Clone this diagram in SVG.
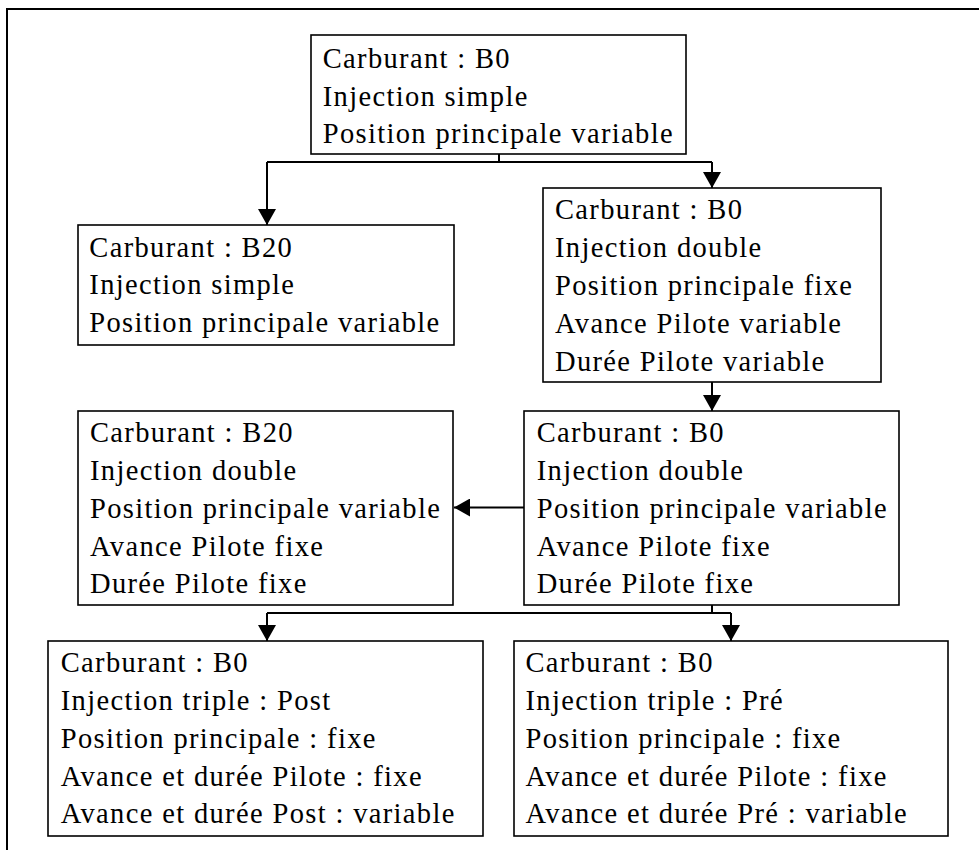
<svg xmlns="http://www.w3.org/2000/svg" width="979" height="850" viewBox="0 0 979 850">
<style>
.box{fill:#fff;stroke:#000;stroke-width:1.6}
.t{font-family:"Liberation Serif","Times New Roman",serif;font-size:28.5px;letter-spacing:1.35px;fill:#000}
.c{fill:none;stroke:#000;stroke-width:2}
</style>
<defs>
<marker id="ah" markerUnits="userSpaceOnUse" markerWidth="16" markerHeight="18" refX="16" refY="9" orient="auto" viewBox="0 0 16 18">
<path d="M0,0 L16,9 L0,18 z" fill="#000"/>
</marker>
</defs>
<rect width="979" height="850" fill="#fff"/>
<path d="M7,850 V9 H979" fill="none" stroke="#000" stroke-width="2"/>
<g id="connectors">
<path class="c" d="M499,154 V162"/>
<path class="c" d="M267,162 H712"/>
<path class="c" d="M267,162 V225" marker-end="url(#ah)"/>
<path class="c" d="M712,162 V188" marker-end="url(#ah)"/>
<path class="c" d="M712,382 V411" marker-end="url(#ah)"/>
<path class="c" d="M524,507.5 H454" marker-end="url(#ah)"/>
<path class="c" d="M712,605 V613"/>
<path class="c" d="M267,613 H731"/>
<path class="c" d="M267,613 V641" marker-end="url(#ah)"/>
<path class="c" d="M731,613 V641" marker-end="url(#ah)"/>
</g>
<g id="n1">
<rect class="box" x="311" y="35" width="375" height="119"/>
<text class="t" x="322.7"><tspan x="322.7" y="67.7">Carburant : B0</tspan><tspan x="322.7" y="105.5">Injection simple</tspan><tspan x="322.7" y="143">Position principale variable</tspan></text>
</g>
<g id="n2">
<rect class="box" x="78" y="225" width="376" height="120"/>
<text class="t"><tspan x="89.3" y="256.7">Carburant : B20</tspan><tspan x="89.3" y="294">Injection simple</tspan><tspan x="89.3" y="331.7">Position principale variable</tspan></text>
</g>
<g id="n3">
<rect class="box" x="543" y="188" width="338" height="194"/>
<text class="t"><tspan x="555" y="219">Carburant : B0</tspan><tspan x="555" y="257">Injection double</tspan><tspan x="555" y="295">Position principale fixe</tspan><tspan x="555" y="333">Avance Pilote variable</tspan><tspan x="555" y="371">Durée Pilote variable</tspan></text>
</g>
<g id="n4">
<rect class="box" x="78" y="411" width="375" height="194"/>
<text class="t"><tspan x="90" y="441.7">Carburant : B20</tspan><tspan x="90" y="480">Injection double</tspan><tspan x="90" y="517.5">Position principale variable</tspan><tspan x="90" y="556">Avance Pilote fixe</tspan><tspan x="90" y="593.3">Durée Pilote fixe</tspan></text>
</g>
<g id="n5">
<rect class="box" x="524" y="411" width="375" height="194"/>
<text class="t"><tspan x="536.7" y="441.7">Carburant : B0</tspan><tspan x="536.7" y="480">Injection double</tspan><tspan x="536.7" y="517.5">Position principale variable</tspan><tspan x="536.7" y="556">Avance Pilote fixe</tspan><tspan x="536.7" y="593.3">Durée Pilote fixe</tspan></text>
</g>
<g id="n6">
<rect class="box" x="48" y="641" width="435" height="195"/>
<text class="t"><tspan x="60.7" y="671.7">Carburant : B0</tspan><tspan x="60.7" y="710">Injection triple : Post</tspan><tspan x="60.7" y="748.3">Position principale : fixe</tspan><tspan x="60.7" y="786">Avance et durée Pilote : fixe</tspan><tspan x="60.7" y="823.3">Avance et durée Post : variable</tspan></text>
</g>
<g id="n7">
<rect class="box" x="514" y="641" width="434" height="195"/>
<text class="t"><tspan x="525.5" y="671.7">Carburant : B0</tspan><tspan x="525.5" y="710">Injection triple : Pré</tspan><tspan x="525.5" y="748.3">Position principale : fixe</tspan><tspan x="525.5" y="786">Avance et durée Pilote : fixe</tspan><tspan x="525.5" y="823.3">Avance et durée Pré : variable</tspan></text>
</g>
</svg>
